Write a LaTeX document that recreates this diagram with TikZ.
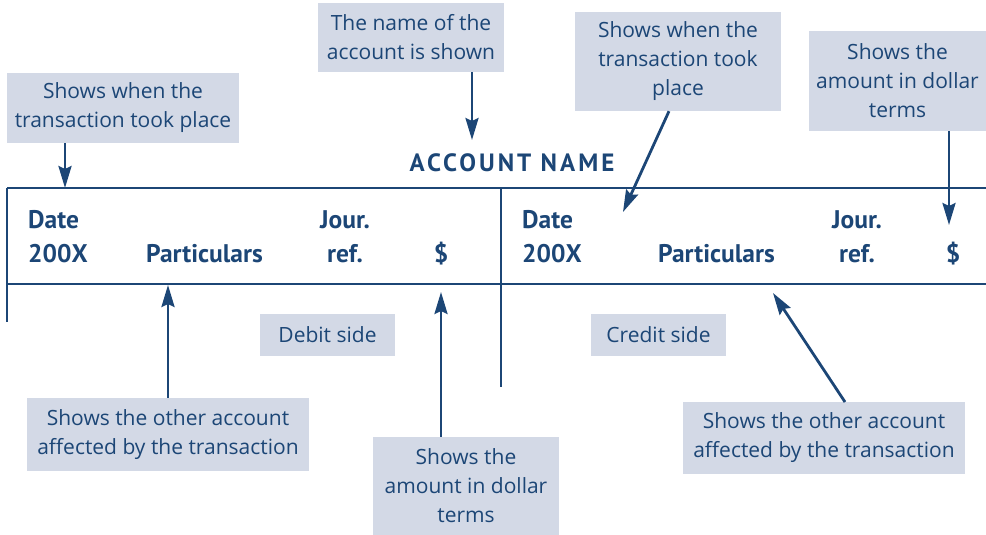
\documentclass[tikz,border=0pt]{standalone}
\usepackage{fontspec}
\setmainfont{Open Sans}
\newfontfamily\headfont{PT Sans}
\usetikzlibrary{arrows.meta}
\definecolor{navy}{RGB}{28,70,118}
\definecolor{boxfill}{RGB}{211,217,230}
\begin{document}
\begin{tikzpicture}[x=1pt,y=-1pt,
  note/.style={fill=boxfill, text=navy, inner sep=0pt, align=center, font=\fontsize{21}{29}\selectfont},
  head/.style={text=navy, inner sep=0pt, font=\headfont\fontsize{25.5}{30}\selectfont\bfseries},
  rule/.style={draw=navy, line width=2.4pt},
  arr/.style={draw=navy, line width=2.8pt, -{Stealth[length=22pt,width=13pt,inset=3pt]}},
]
\useasboundingbox (0,0) rectangle (986,535);
% table lines
\coordinate (tl) at (7,188);
\coordinate (tr) at (986,188);
\coordinate (ml) at (7,284);
\coordinate (mr) at (986,284);
\coordinate (lb) at (7,322);
\coordinate (ct) at (501,188);
\coordinate (cb) at (501,387);
\draw[rule] (tl) -- (tr);
\draw[rule] (ml) -- (mr);
\draw[draw=navy, line width=2pt] (tl) -- (lb);
\draw[draw=navy, line width=1.2pt] (ct) -- (cb);
% title
\node[head, anchor=base, font=\headfont\fontsize{25}{30}\selectfont\bfseries\addfontfeature{LetterSpace=12}] (title) at (512,171) {ACCOUNT NAME};
% headers
\node[head, anchor=base west] (d1) at (28,228) {Date};
\node[head, anchor=base west] (y1) at (28,262) {200X};
\node[head, anchor=base west] (p1) at (146,262) {Particulars};
\node[head, anchor=base] (j1) at (345,228) {Jour.};
\node[head, anchor=base] (r1) at (345,262) {ref.};
\node[head, anchor=base] (s1) at (441,262) {\$};
\node[head, anchor=base west] (d2) at (522,228) {Date};
\node[head, anchor=base west] (y2) at (522,262) {200X};
\node[head, anchor=base west] (p2) at (658,262) {Particulars};
\node[head, anchor=base] (j2) at (857,228) {Jour.};
\node[head, anchor=base] (r2) at (857,262) {ref.};
\node[head, anchor=base] (s2) at (953,262) {\$};
% notes
\node[note, minimum width=232pt, minimum height=70pt, execute at begin node={\rule{0pt}{20pt}}] (b1) at (123,108) {Shows when the\\transaction took place};
\node[note, minimum width=186pt, minimum height=69pt] (b2) at (411,37.5) {The name of the\\account is shown};
\node[note, minimum width=206pt, minimum height=99pt] (b3) at (678,61.5) {Shows when the\\transaction took\\place};
\node[note, minimum width=177pt, minimum height=100pt] (b4) at (897.5,81) {Shows the\\amount in dollar\\terms};
\node[note, minimum width=135pt, minimum height=42pt] (debit) at (327.5,335) {Debit side};
\node[note, minimum width=135pt, minimum height=42pt] (credit) at (658.5,335) {Credit side};
\node[note, minimum width=282pt, minimum height=73pt] (b5) at (168,434.5) {Shows the other account\\affected by the transaction};
\node[note, minimum width=186pt, minimum height=98pt] (b6) at (466,486) {Shows the\\amount in dollar\\terms};
\node[note, minimum width=282pt, minimum height=72pt] (b7) at (824,438) {Shows the other account\\affected by the transaction};
% arrow targets
\coordinate (t1) at (65,188);
\coordinate (t2) at (472,140);
\coordinate (f3) at (669,111);
\coordinate (t3) at (623,212);
\coordinate (t4) at (949,225);
\coordinate (t5) at (168,285);
\coordinate (t6) at (441,292);
\coordinate (f7) at (845,402);
\coordinate (t7) at (773,293);
\draw[arr] (b1.south -| t1) -- (t1);
\draw[arr] (b2.south -| t2) -- (t2);
\draw[arr] (b3.south -| f3) -- (t3);
\draw[arr] (b4.south -| t4) -- (t4);
\draw[arr] (b5.north -| t5) -- (t5);
\draw[arr] (b6.north -| t6) -- (t6);
\draw[arr] (f7) -- (t7);
\end{tikzpicture}
\end{document}
